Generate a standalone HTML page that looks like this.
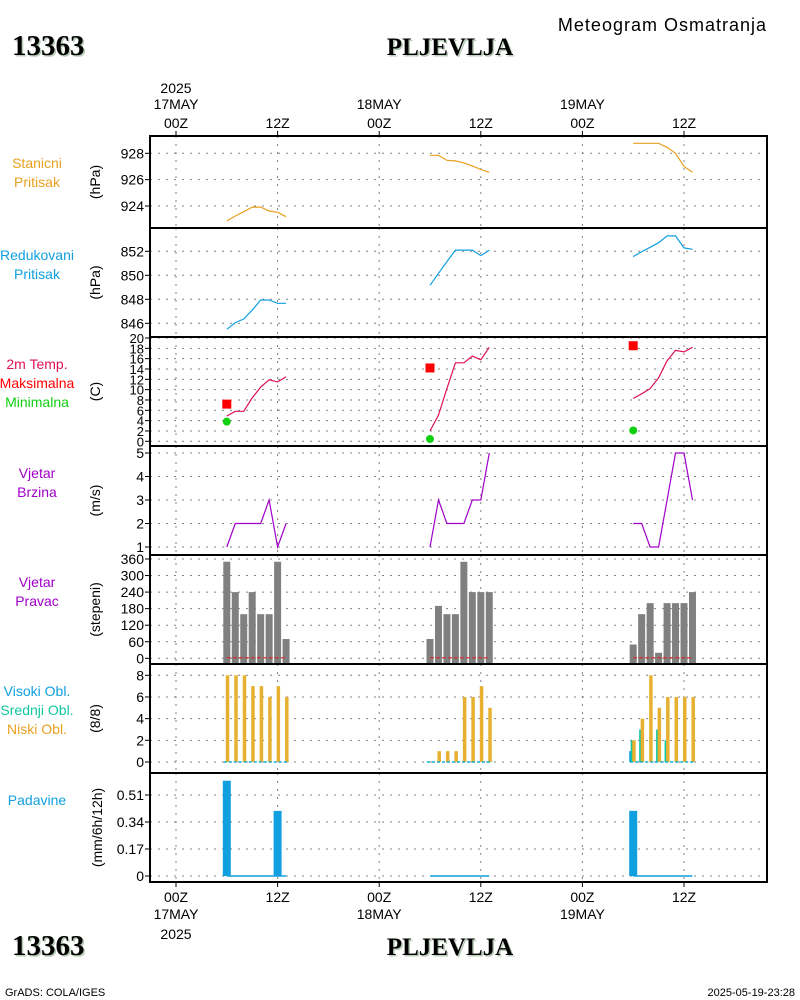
<!DOCTYPE html>
<html><head><meta charset="utf-8"><style>
body{margin:0;background:#fff;}
svg{display:block;font-family:"Liberation Sans",sans-serif;}
.t{font-size:14px;fill:#000;}
</style></head><body>
<svg id="c" width="800" height="1000" viewBox="0 0 800 1000" xmlns="http://www.w3.org/2000/svg"></svg>
<script>
// ---- data (hourly 06Z..13Z for 17,18,19 MAY) ----
const days = [0, 24, 48];
const hours = [6,7,8,9,10,11,12,13];
const stanPres = [[922.86,923.24,923.57,923.92,923.92,923.62,923.52,923.19],[927.85,927.85,927.47,927.42,927.27,927.04,926.77,926.55],[928.76,928.76,928.76,928.76,928.45,928.0,927.0,926.56]];
const redPres = [[845.5,846.06,846.36,847.1,847.94,847.94,847.67,847.67],[849.17,850.17,851.14,852.1,852.1,852.1,851.64,852.08],[851.56,851.97,852.33,852.72,853.28,853.28,852.28,852.17]];
const temp = [[4.9,5.8,5.8,8.4,10.5,11.9,11.5,12.5],[2.0,5.1,10.2,15.2,15.2,16.5,15.8,18.2],[8.3,9.2,10.2,12.3,15.6,17.6,17.3,18.2]];
const tmax = [7.2,14.2,18.5];
const tmin = [3.8,0.45,2.1];
const windSpd = [[1,2,2,2,2,3,1,2],[1,3,2,2,2,3,3,5],[2,2,1,1,3,5,5,3]];
const windDir = [[350,240,160,240,160,160,350,70],[70,190,160,160,350,240,240,240],[50,160,200,20,200,200,200,240]];
const cloudHigh = [[0,0,0,0,0,0,0,0],[0,0,0,0,0,0,0,0],[1,0,0,0,0,0,0,0]];
const cloudMid = [[0,0,0,0,0,0,0,0],[0,0,0,0,0,0,0,0],[2,3,0,3,2,0,0,0]];
const cloudLow = [[8,8,8,7,7,6,7,6],[0,1,1,1,6,6,7,5],[2,4,8,5,6,6,6,6]];
const precipHours = [[6,12],[],[6]];
const precipVals = [[0.60,0.41],[],[0.41]];
const tickStan = [924,926,928];
const tickRed = [846,848,850,852];
const tickTemp = [0,2,4,6,8,10,12,14,16,18,20];
const tickWind = [1,2,3,4,5];
const tickDir = [0,60,120,180,240,300,360];
const tickCloud = [0,2,4,6,8];
const tickPrec = [0,0.17,0.34,0.51];

const NS="http://www.w3.org/2000/svg";
const svg=document.getElementById('c');
function mk(tag,attrs,parent){const e=document.createElementNS(NS,tag);for(const k in attrs)e.setAttribute(k,attrs[k]);(parent||svg).appendChild(e);return e;}
const X0=150,X1=767;
function xh(h){return 176+h*(101.6/12);}
function lin(v0,y0,v1,y1){return v=>y0+(v-v0)*(y1-y0)/(v1-v0);}

const panels=[
 {top:136,bot:228,y:lin(924,206,928,153.3),ticks:tickStan,name:'station-pressure',unit:'(hPa)',lab:[['Stanicni','#e8a020'],['Pritisak','#e8a020']]},
 {top:228,bot:337,y:lin(846,323.3,852,251.3),ticks:tickRed,name:'reduced-pressure',unit:'(hPa)',lab:[['Redukovani','#10a0e0'],['Pritisak','#10a0e0']]},
 {top:337,bot:446,y:lin(0,441.3,20,338),ticks:tickTemp,name:'temperature',unit:'(C)',lab:[['2m Temp.','#e0105a'],['Maksimalna','#ff0000'],['Minimalna','#10d010']],small:true},
 {top:446,bot:555,y:lin(1,547,5,453),ticks:tickWind,name:'wind-speed',unit:'(m/s)',lab:[['Vjetar','#a000c8'],['Brzina','#a000c8']]},
 {top:555,bot:664,y:lin(0,658.3,360,559),ticks:tickDir,name:'wind-direction',unit:'(stepeni)',lab:[['Vjetar','#a000c8'],['Pravac','#a000c8']]},
 {top:664,bot:773,y:lin(0,762,8,675.3),ticks:tickCloud,name:'cloud-cover',unit:'(8/8)',lab:[['Visoki Obl.','#10a0e0'],['Srednji Obl.','#10c8a0'],['Niski Obl.','#e8a020']]},
 {top:773,bot:882,y:lin(0,876,0.51,795),ticks:tickPrec,name:'precipitation',unit:'(mm/6h/12h)',lab:[['Padavine','#10a0e0']]}
];

panels.forEach((p,i)=>{
  const g=mk('g',{});
  
  
  for(let h=0;h<=60;h+=12){
    mk('line',{x1:xh(h),x2:xh(h),y1:p.top,y2:p.bot,stroke:'#808080','stroke-dasharray':'2,6','stroke-width':1},g);
  }
  p.ticks.forEach(t=>{
    const y=p.y(t);
    mk('line',{x1:X0,x2:X1,y1:y,y2:y,stroke:'#808080','stroke-dasharray':'2,6','stroke-width':1},g);
    mk('line',{x1:X0-5,x2:X0,y1:y,y2:y,stroke:'#000','stroke-width':1},g);
    const tx=mk('text',{x:X0-6,y:y+5,'text-anchor':'end','font-size':p.small?'13':'14',fill:'#000'},g);
    tx.textContent=String(t);
    
    
  });
  const u=mk('text',{x:0,y:0,transform:`translate(${i==6?102:100},${(p.top+p.bot)/2}) rotate(-90)`,'text-anchor':'middle','font-size':'14',fill:'#000'},g);
  u.textContent=p.unit;
  
  
  const cy=p.top+27;
  p.lab.forEach((L,k)=>{
    const t=mk('text',{x:37,y:cy+k*19+5,'text-anchor':'middle','font-size':'14',fill:L[1]},g);
    t.textContent=L[0];
    
    
  });
});

function line(arr,p,color,name){
  arr.forEach((vals,d)=>{
    const pts=vals.map((v,k)=>xh(days[d]+hours[k]).toFixed(1)+','+p.y(v).toFixed(1)).join(' ');
    const e=mk('polyline',{points:pts,fill:'none',stroke:color,'stroke-width':1.2});
    
    
  });
}
line(stanPres,panels[0],'#e8a020','station-pressure-line');
line(redPres,panels[1],'#10a0e0','reduced-pressure-line');
line(temp,panels[2],'#e0105a','temperature-line');
line(windSpd,panels[3],'#a000c8','wind-speed-line');
tmax.forEach((v,d)=>{
  const e=mk('rect',{x:xh(days[d]+6)-4.5,y:panels[2].y(v)-4.5,width:9,height:9,fill:'#ff0000'});
  
  
});
tmin.forEach((v,d)=>{
  const e=mk('circle',{cx:xh(days[d]+6),cy:panels[2].y(v),r:4,fill:'#10d010'});
  
  
});
const pd=panels[4];
windDir.forEach((vals,d)=>{
  vals.forEach((v,k)=>{
    const x=xh(days[d]+hours[k]), y=pd.y(v);
    const e=mk('rect',{x:x-3.5,y:y,width:7,height:pd.y(0)+5-y,fill:'#808080'});
    
    
  });
  const l=mk('line',{x1:xh(days[d]+6),x2:xh(days[d]+13),y1:pd.y(0)-0.5,y2:pd.y(0)-0.5,stroke:'#e02020','stroke-width':1.2,'stroke-dasharray':'4,2'});
  
  
});
const pc=panels[5];
function cbars(arr,off,color,name){
  arr.forEach((vals,d)=>vals.forEach((v,k)=>{
    if(v<=0)return;
    const x=xh(days[d]+hours[k])+off, y=pc.y(v);
    const e=mk('rect',{x:x-1.5,y:y,width:3.5,height:pc.y(0)-y,fill:color});
    
    
  }));
}
cbars(cloudHigh,-2.5,'#10a0e0','high-cloud-bar');
cbars(cloudMid,-1,'#10c8a0','mid-cloud-bar');
cbars(cloudLow,0.5,'#e8b030','low-cloud-bar');
days.forEach(dd=>{
  const l=mk('line',{x1:xh(dd+6)-3,x2:xh(dd+13)+3,y1:pc.y(0),y2:pc.y(0),stroke:'#10b0d0','stroke-width':1.5,'stroke-dasharray':'3,2'});
  
  
});
const pp=panels[6];
precipVals.forEach((vals,d)=>vals.forEach((v,k)=>{
  const x=xh(days[d]+precipHours[d][k]), y=pp.y(v);
  const e=mk('rect',{x:x-4,y:y,width:8,height:pp.y(0)-y,fill:'#10a0e0'});
  
  
}));
days.forEach(dd=>{
  const l=mk('line',{x1:xh(dd+6),x2:xh(dd+13),y1:pp.y(0),y2:pp.y(0),stroke:'#10a0e0','stroke-width':1.5});
  
  
});
panels.forEach(p=>{
  const r=mk('rect',{x:X0,y:p.top,width:X1-X0,height:p.bot-p.top,fill:'none',stroke:'#000','stroke-width':2});
  
  
});
const dayLab=['17MAY','18MAY','19MAY'];
for(let h=0;h<=60;h+=12){
  const x=xh(h);
  mk('line',{x1:x,x2:x,y1:136,y2:131,stroke:'#000'});
  mk('line',{x1:x,x2:x,y1:882,y2:887,stroke:'#000'});
  const a=mk('text',{x:x,y:128,'text-anchor':'middle',class:'t'});a.textContent=(h%24==0?'00Z':'12Z');
  
  const b=mk('text',{x:x,y:902,'text-anchor':'middle',class:'t'});b.textContent=(h%24==0?'00Z':'12Z');
  
  if(h%24==0){
    const c=mk('text',{x:x,y:109,'text-anchor':'middle',class:'t'});c.textContent=dayLab[h/24];
    
    const e=mk('text',{x:x,y:919,'text-anchor':'middle',class:'t'});e.textContent=dayLab[h/24];
    
  }
}
function txt(s,attrs,name){const t=mk('text',attrs);t.textContent=s;return t;}
txt('2025',{x:176,y:93,'text-anchor':'middle',class:'t'},'year-label');
txt('2025',{x:176,y:939,'text-anchor':'middle',class:'t'},'year-label');
txt('Meteogram Osmatranja',{x:767,y:31,'text-anchor':'end','font-size':'18','letter-spacing':'1',fill:'#000'},'chart-subtitle');
[[55,'13363',12],[955,'13363',12]].forEach(a=>{
  txt(a[1],{x:a[2]+1.5,y:a[0]+1.5,'font-family':'Liberation Serif,serif','font-weight':'bold','font-size':'29',fill:'#b8ccb8'},'station-id-shadow');
  txt(a[1],{x:a[2],y:a[0],'font-family':'Liberation Serif,serif','font-weight':'bold','font-size':'29',fill:'#000'},'station-id');
});
[55,955].forEach(y=>{
  txt('PLJEVLJA',{x:451.5,y:y+1.5,'text-anchor':'middle','font-family':'Liberation Serif,serif','font-weight':'bold','font-size':'25',fill:'#b8ccb8'},'station-name-shadow');
  txt('PLJEVLJA',{x:450,y:y,'text-anchor':'middle','font-family':'Liberation Serif,serif','font-weight':'bold','font-size':'25',fill:'#000'},'station-name');
});
txt('GrADS: COLA/IGES',{x:5,y:996,'font-size':'11',fill:'#000'},'footer-credit');
txt('2025-05-19-23:28',{x:795,y:996,'text-anchor':'end','font-size':'11',fill:'#000'},'footer-timestamp');
</script>
</body></html>
